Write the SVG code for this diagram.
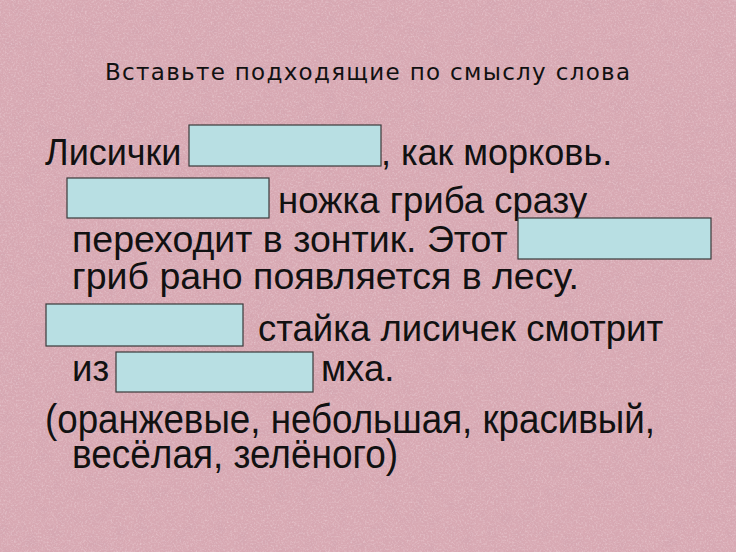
<svg xmlns="http://www.w3.org/2000/svg" width="736" height="552" viewBox="0 0 736 552">
  <defs>
    <filter id="tex" x="0" y="0" width="100%" height="100%">
      <feTurbulence type="fractalNoise" baseFrequency="0.55" numOctaves="4" seed="7" result="n"/>
      <feColorMatrix in="n" type="matrix" values="0 0 0 0 1  0 0 0 0 0.95  0 0 0 0 0.97  1.4 0 0 0 -0.62"/>
    </filter>
    <filter id="tex2" x="0" y="0" width="100%" height="100%">
      <feTurbulence type="fractalNoise" baseFrequency="0.08" numOctaves="3" seed="2" result="n"/>
      <feColorMatrix in="n" type="matrix" values="0 0 0 0 0.6  0 0 0 0 0.35  0 0 0 0 0.42  0 1.2 0 0 -0.55"/>
    </filter>
  </defs>
  <style>
    .body { font-family: "Liberation Sans", Arial, sans-serif; font-size: 36.5px; fill: #111; }
    .big { font-size: 37.5px; }
    .l1 { font-size: 36px; }
    .narrow { font-family: "Liberation Sans Narrow", "Liberation Sans", Arial, sans-serif; font-size: 40px; fill: #111; }
    .title { font-family: "DejaVu Sans", "Liberation Sans", sans-serif; font-size: 23px; fill: #111; }
    .blank { fill: #b8dfe3; stroke: #3a3a3a; stroke-width: 1.2; }
  </style>

  <g id="background">
    <rect x="0" y="0" width="736" height="552" fill="#d8a9b3"/>
    <rect x="0" y="0" width="736" height="552" filter="url(#tex2)" opacity="0.5"/>
    <rect x="0" y="0" width="736" height="552" filter="url(#tex)" opacity="0.45"/>
  </g>

  <g id="title">
    <text class="title" x="105" y="80" textLength="525" lengthAdjust="spacing">Вставьте подходящие по смыслу слова</text>
  </g>

  <g id="text">
    <text class="body l1" x="45" y="165">Лисички</text>
    <text class="body l1" x="381" y="165">, как морковь.</text>
    <text class="body" x="278" y="213">ножка гриба сразу</text>
    <text class="body big" x="72" y="252">переходит в зонтик. Этот</text>
    <text class="body big" x="72" y="289">гриб рано появляется в лесу.</text>
    <text class="body" x="258" y="341">стайка лисичек смотрит</text>
    <text class="body" x="72" y="381">из</text>
    <text class="body" x="321" y="381">мха.</text>
    <text class="narrow" x="45" y="433" textLength="610" lengthAdjust="spacingAndGlyphs">(оранжевые, небольшая, красивый,</text>
    <text class="narrow" x="72" y="468" textLength="326" lengthAdjust="spacingAndGlyphs">весёлая, зелёного)</text>
  </g>

  <g id="blank1"><rect class="blank" x="189" y="125" width="192" height="41"/></g>
  <g id="blank2"><rect class="blank" x="67" y="178" width="202" height="40"/></g>
  <g id="blank3"><rect class="blank" x="518" y="218" width="193" height="41"/></g>
  <g id="blank4"><rect class="blank" x="46" y="304" width="197" height="42"/></g>
  <g id="blank5"><rect class="blank" x="116" y="352" width="197" height="40"/></g>
</svg>
